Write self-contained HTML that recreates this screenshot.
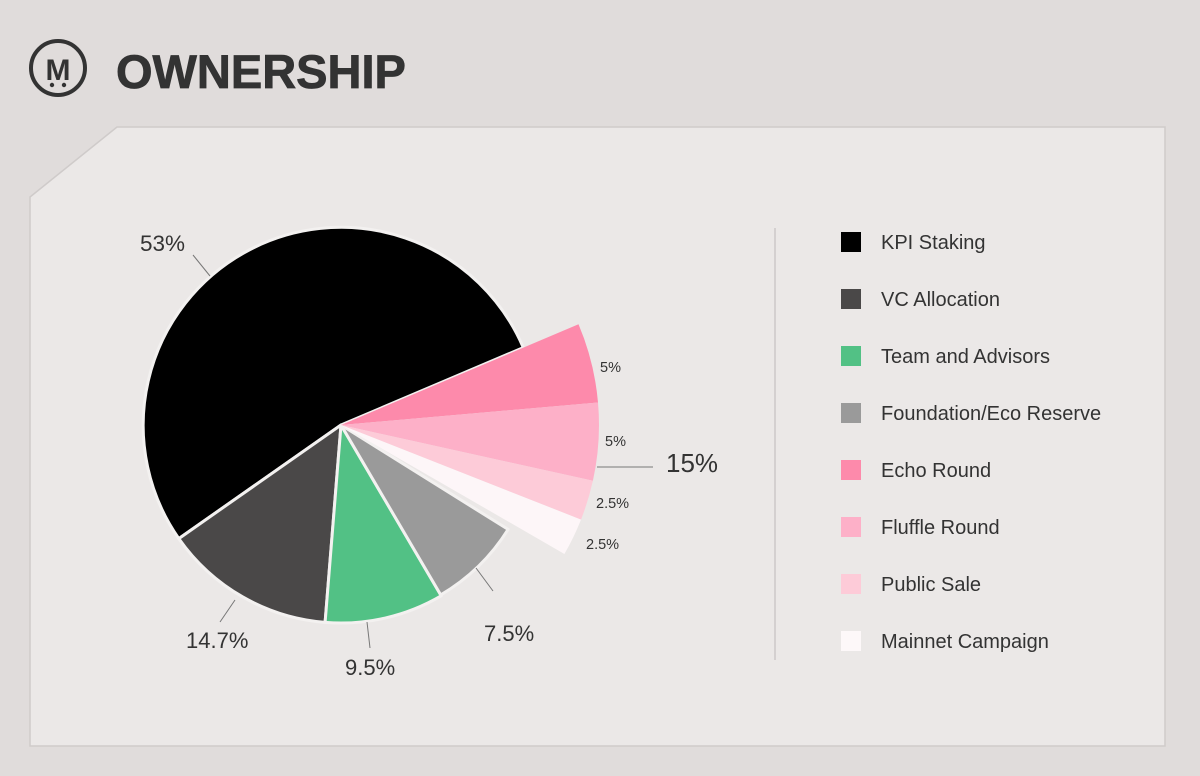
<!DOCTYPE html>
<html><head><meta charset="utf-8"><style>
html,body{margin:0;padding:0;background:#e0dcdb;}
svg{display:block;font-family:"Liberation Sans",sans-serif;}
</style></head><body>
<svg width="1200" height="776" viewBox="0 0 1200 776" xmlns="http://www.w3.org/2000/svg">
<rect width="1200" height="776" fill="#e0dcdb"/>
<circle cx="58" cy="68" r="27" fill="none" stroke="#333" stroke-width="4"/>
<text x="58" y="80" text-anchor="middle" font-size="30" font-weight="bold" fill="#333">M</text>
<circle cx="52" cy="85" r="2.2" fill="#333"/><circle cx="64" cy="85" r="2.2" fill="#333"/>
<text x="116" y="88" font-size="47" font-weight="bold" fill="#333" stroke="#333" stroke-width="0.8">OWNERSHIP</text>
<path d="M117 127 H1165 V746 H30 V197 Z" fill="#ebe8e7" stroke="#cfcbca" stroke-width="1.5"/>
<g stroke="#f3f1f0" stroke-width="3" stroke-linejoin="round">
<path d="M341 425 L178.8 538.6 A198 198 0 1 1 523.3 347.6 Z" fill="#000"/>
<path d="M341 425 L325.1 622.4 A198 198 0 0 1 178.8 538.6 Z" fill="#4a4848"/>
<path d="M341 425 L441.2 595.8 A198 198 0 0 1 325.1 622.4 Z" fill="#52c185"/>
<path d="M341 425 L508.1 529.4 A197 197 0 0 1 440.7 594.9 Z" fill="#9a9a9a"/>
</g>
<g stroke="none">
<path d="M341 425 L578.5 324.2 A258 258 0 0 1 598.0 402.5 Z" fill="#fd8aab"/>
<path d="M341 425 L598.0 402.5 A258 258 0 0 1 592.9 480.8 Z" fill="#fdb0c8"/>
<path d="M341 425 L592.9 480.8 A258 258 0 0 1 581.0 519.6 Z" fill="#fdcbd8"/>
<path d="M341 425 L581.0 519.6 A258 258 0 0 1 564.4 554.0 Z" fill="#fdf6f8"/>
</g>
<g stroke="#777" stroke-width="1">
<line x1="193" y1="255" x2="210" y2="276"/>
<line x1="235" y1="600" x2="220" y2="622"/>
<line x1="367" y1="622" x2="370" y2="648"/>
<line x1="476" y1="568" x2="493" y2="591"/>
<line x1="597" y1="467" x2="653" y2="467"/>
</g>
<g fill="#333">
<text x="140" y="251" font-size="22.5">53%</text>
<text x="186" y="648" font-size="22">14.7%</text>
<text x="345" y="675" font-size="22">9.5%</text>
<text x="484" y="641" font-size="22">7.5%</text>
<text x="666" y="472" font-size="26">15%</text>
<text x="600" y="372" font-size="14.5">5%</text>
<text x="605" y="446" font-size="14.5">5%</text>
<text x="596" y="508" font-size="14.5">2.5%</text>
<text x="586" y="549" font-size="14.5">2.5%</text>
</g>
<line x1="775" y1="228" x2="775" y2="660" stroke="#bdb9b8" stroke-width="1"/>
<g font-size="20" fill="#333">
<rect x="841" y="232" width="20" height="20" fill="#000"/><text x="881" y="249">KPI Staking</text>
<rect x="841" y="289" width="20" height="20" fill="#4a4848"/><text x="881" y="306">VC Allocation</text>
<rect x="841" y="346" width="20" height="20" fill="#52c185"/><text x="881" y="363">Team and Advisors</text>
<rect x="841" y="403" width="20" height="20" fill="#9a9a9a"/><text x="881" y="420">Foundation/Eco Reserve</text>
<rect x="841" y="460" width="20" height="20" fill="#fd8aab"/><text x="881" y="477">Echo Round</text>
<rect x="841" y="517" width="20" height="20" fill="#fdb0c8"/><text x="881" y="534">Fluffle Round</text>
<rect x="841" y="574" width="20" height="20" fill="#fdcbd8"/><text x="881" y="591">Public Sale</text>
<rect x="841" y="631" width="20" height="20" fill="#fdf8f9"/><text x="881" y="648">Mainnet Campaign</text>
</g>
</svg>
</body></html>
